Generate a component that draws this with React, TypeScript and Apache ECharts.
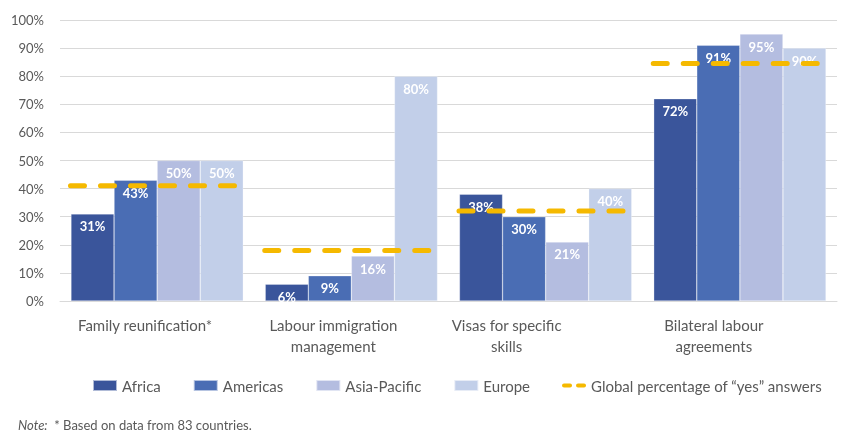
import React, { useEffect, useRef } from "react";
import * as echarts from "echarts";

const categories = [
  "Family reunification*",
  "Labour immigration\nmanagement",
  "Visas for specific\nskills",
  "Bilateral labour\nagreements",
];
const africa = [31, 6, 38, 72];
const americas = [43, 9, 30, 91];
const asiaPacific = [50, 16, 21, 95];
const europe = [50, 80, 40, 90];
const globalYes = [41, 18, 32, 84.5];
const yTicks = [0, 10, 20, 30, 40, 50, 60, 70, 80, 90, 100];

const labelShift = [24, 36, 78, 52];
const FONT = "Lato, 'Open Sans', sans-serif";
const GREY = "#595959";

export default function App() {
  const ref = useRef<HTMLDivElement>(null);
  useEffect(() => {
    const chart = echarts.init(ref.current!, undefined, { renderer: "svg" });
    const barLabel = {
      show: true,
      position: "insideTop",
      distance: 6,
      color: "#fff",
      fontWeight: "bold",
      fontSize: 13,
      fontFamily: FONT,
      formatter: (p: any) => `${p.value}%`,
    };
    const mkBar = (name: string, data: number[], color: string) => ({
      name,
      type: "bar",
      data,
      barGap: "0%",
      barCategoryGap: "11.3%",
      itemStyle: { color, borderColor: "rgba(255,255,255,0.6)", borderWidth: 0.5 },
      label: barLabel,
    });
    const rich: any = {};
    labelShift.forEach((s, i) => {
      rich["c" + i] = {
        fontSize: 15,
        color: GREY,
        fontFamily: FONT,
        lineHeight: 21,
        padding: [0, s, 0, 0],
      };
    });
    chart.setOption({
      animation: false,
      textStyle: { fontFamily: FONT },
      grid: { left: 60, right: 4, top: 20, bottom: 133 },
      legend: {
        left: 87,
        top: 373,
        itemWidth: 24,
        itemHeight: 11,
        itemGap: 32,
        textStyle: { color: GREY, fontSize: 15, fontFamily: FONT },
        data: [
          { name: "Africa", icon: "rect" },
          { name: "Americas", icon: "rect" },
          { name: "Asia-Pacific", icon: "rect" },
          { name: "Europe", icon: "rect" },
          {
            name: "Global percentage of \u201cyes\u201d answers",
            icon: "path://M2,0h6a2,2 0 0 1 0,4h-6a2,2 0 0 1 0,-4z M16,0h6a2,2 0 0 1 0,4h-6a2,2 0 0 1 0,-4z",
          },
        ],
      },
      xAxis: {
        type: "category",
        data: categories,
        axisLine: { show: true, lineStyle: { color: "#d9d9d9" } },
        axisTick: { show: false },
        axisLabel: {
          margin: 13,
          interval: 0,
          rich,
          formatter: (v: string, i: number) =>
            v
              .split("\n")
              .map((l) => `{c${i}|${l}}`)
              .join("\n"),
        },
      },
      yAxis: {
        type: "value",
        min: yTicks[0],
        max: yTicks[yTicks.length - 1],
        interval: 10,
        axisLine: { show: false },
        axisTick: { show: false },
        axisLabel: {
          formatter: "{value}%",
          color: GREY,
          fontSize: 13,
          fontFamily: FONT,
          margin: 16,
        },
        splitLine: { lineStyle: { color: "#d9d9d9" } },
      },
      series: [
        mkBar("Africa", africa, "#3a559b"),
        mkBar("Americas", americas, "#4a6db4"),
        mkBar("Asia-Pacific", asiaPacific, "#b4bde0"),
        mkBar("Europe", europe, "#c2cfe9"),
        {
          name: "Global percentage of \u201cyes\u201d answers",
          type: "custom",
          itemStyle: { color: "#f5b900" },
          data: globalYes.map((v, i) => [i, v]),
          encode: { x: 0, y: 1 },
          z: 10,
          renderItem: (params: any, api: any) => {
            const p = api.coord([api.value(0), api.value(1)]);
            const w = api.size([1, 0])[0];
            return {
              type: "line",
              shape: { x1: p[0] - w * 0.446, y1: p[1], x2: p[0] + w * 0.42, y2: p[1] },
              style: {
                stroke: "#f5b900",
                lineWidth: 5,
                lineDash: [14, 16],
                lineCap: "round",
              },
            };
          },
        },
      ],
      graphic: [
        {
          type: "text",
          left: 18,
          top: 418,
          style: {
            text: "{i|Note:}{n|  * Based on data from 83 countries.}",
            rich: {
              i: { fontStyle: "italic", fontSize: 13, fill: GREY, fontFamily: FONT },
              n: { fontSize: 13, fill: GREY, fontFamily: FONT },
            },
          },
        },
      ],
    });
    return () => chart.dispose();
  }, []);
  return <div ref={ref} style={{ width: 841, height: 434, position: "fixed", left: 0, top: 0 }} />;
}
